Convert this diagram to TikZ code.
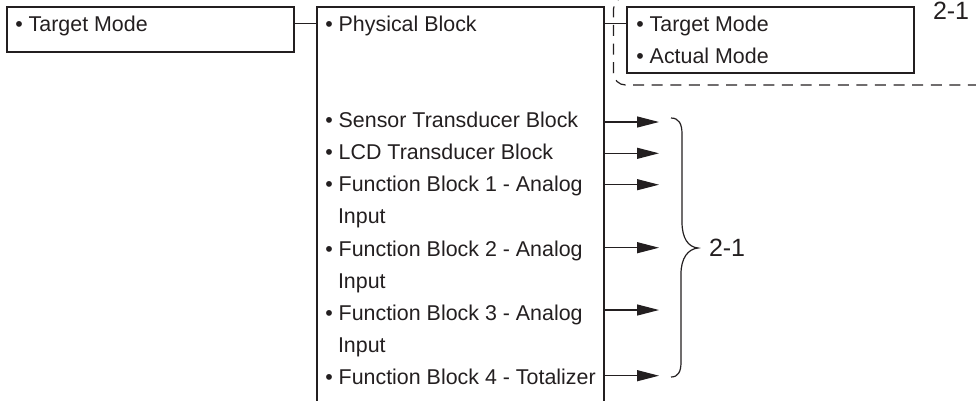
\documentclass[tikz,border=0pt]{standalone}
\usepackage{fontspec}
\setmainfont{Liberation Sans}
\usetikzlibrary{arrows.meta}
\definecolor{ink}{HTML}{231F20}
\tikzset{
  box/.style={draw=ink, line width=1.2pt, rectangle, inner sep=0pt, outer sep=0pt, anchor=north west},
  txt/.style={anchor=base west, inner sep=0pt, outer sep=0pt, text=ink, font=\fontsize{21.4pt}{25pt}\selectfont},
  big/.style={anchor=base west, inner sep=0pt, outer sep=0pt, text=ink, font=\fontsize{25pt}{30pt}\selectfont},
  link/.style={draw=ink, line width=1.2pt},
  arr/.style={draw=ink, line width=1.2pt, -{Triangle[length=22pt,width=11pt]}},
  dashbox/.style={draw=ink, line width=1.2pt, dash pattern=on 11pt off 7.6pt, rounded corners=12pt},
}
\begin{document}
\begin{tikzpicture}[x=1pt,y=-1pt]
\useasboundingbox (0,0) rectangle (976,400);
\clip (0,0) rectangle (976,400);
% boxes
\node[box, minimum width=287pt, minimum height=45pt] (left) at (7,7) {};
\node[box, minimum width=287pt, minimum height=420pt] (phys) at (317,7) {};
\node[box, minimum width=287pt, minimum height=66pt] (right) at (627,7) {};
% dashed group
\draw[dashbox] (1000,-3) -- (613.5,-3) -- (613.5,85) -- (1000,85);
% connectors
\coordinate (lj) at (317,23.5);
\coordinate (rj) at (627,23.5);
\draw[link] (left.east |- lj) -- (lj);
\draw[link] (phys.east |- rj) -- (rj);
% texts
\node[txt] (t1) at (15.3,31.7) {\textbullet\ Target Mode};
\node[txt] (t2) at (325.3,31.7) {\textbullet\ Physical Block};
\node[txt] (t3) at (636.3,31.7) {\textbullet\ Target Mode};
\node[txt] (t4) at (636.3,63.3) {\textbullet\ Actual Mode};
\node[txt] (l1) at (325.3,127.3) {\textbullet\ Sensor Transducer Block};
\node[txt] (l2) at (325.3,159.5) {\textbullet\ LCD Transducer Block};
\node[txt] (l3) at (325.3,191.7) {\textbullet\ Function Block 1 - Analog};
\node[txt] (l4) at (338,223.9) {Input};
\node[txt] (l5) at (325.3,256.1) {\textbullet\ Function Block 2 - Analog};
\node[txt] (l6) at (338,288.3) {Input};
\node[txt] (l7) at (325.3,320.5) {\textbullet\ Function Block 3 - Analog};
\node[txt] (l8) at (338,352.7) {Input};
\node[txt] (l9) at (325.3,384.9) {\textbullet\ Function Block 4 - Totalizer};
% arrows
\coordinate (a1) at (659,122);
\coordinate (a2) at (659,153.3);
\coordinate (a3) at (659,184.7);
\coordinate (a4) at (659,247.7);
\coordinate (a5) at (659,310);
\coordinate (a6) at (659,375.7);
\foreach \a in {a1,a2,a3,a4,a5,a6} \draw[arr] (phys.east |- \a) -- (\a);
% brace
\draw[link] (671,118) .. controls (679,118) and (682,124) .. (682,134) -- (682,222)
  .. controls (682,238) and (688,247) .. (698,248)
  .. controls (688,249) and (681,258) .. (681,274) -- (681,362)
  .. controls (681,372) and (678,377) .. (671,377);
\node[big] (b1) at (709,256) {2-1};
\node[big] (b2) at (933,19.5) {2-1};
\end{tikzpicture}
\end{document}
